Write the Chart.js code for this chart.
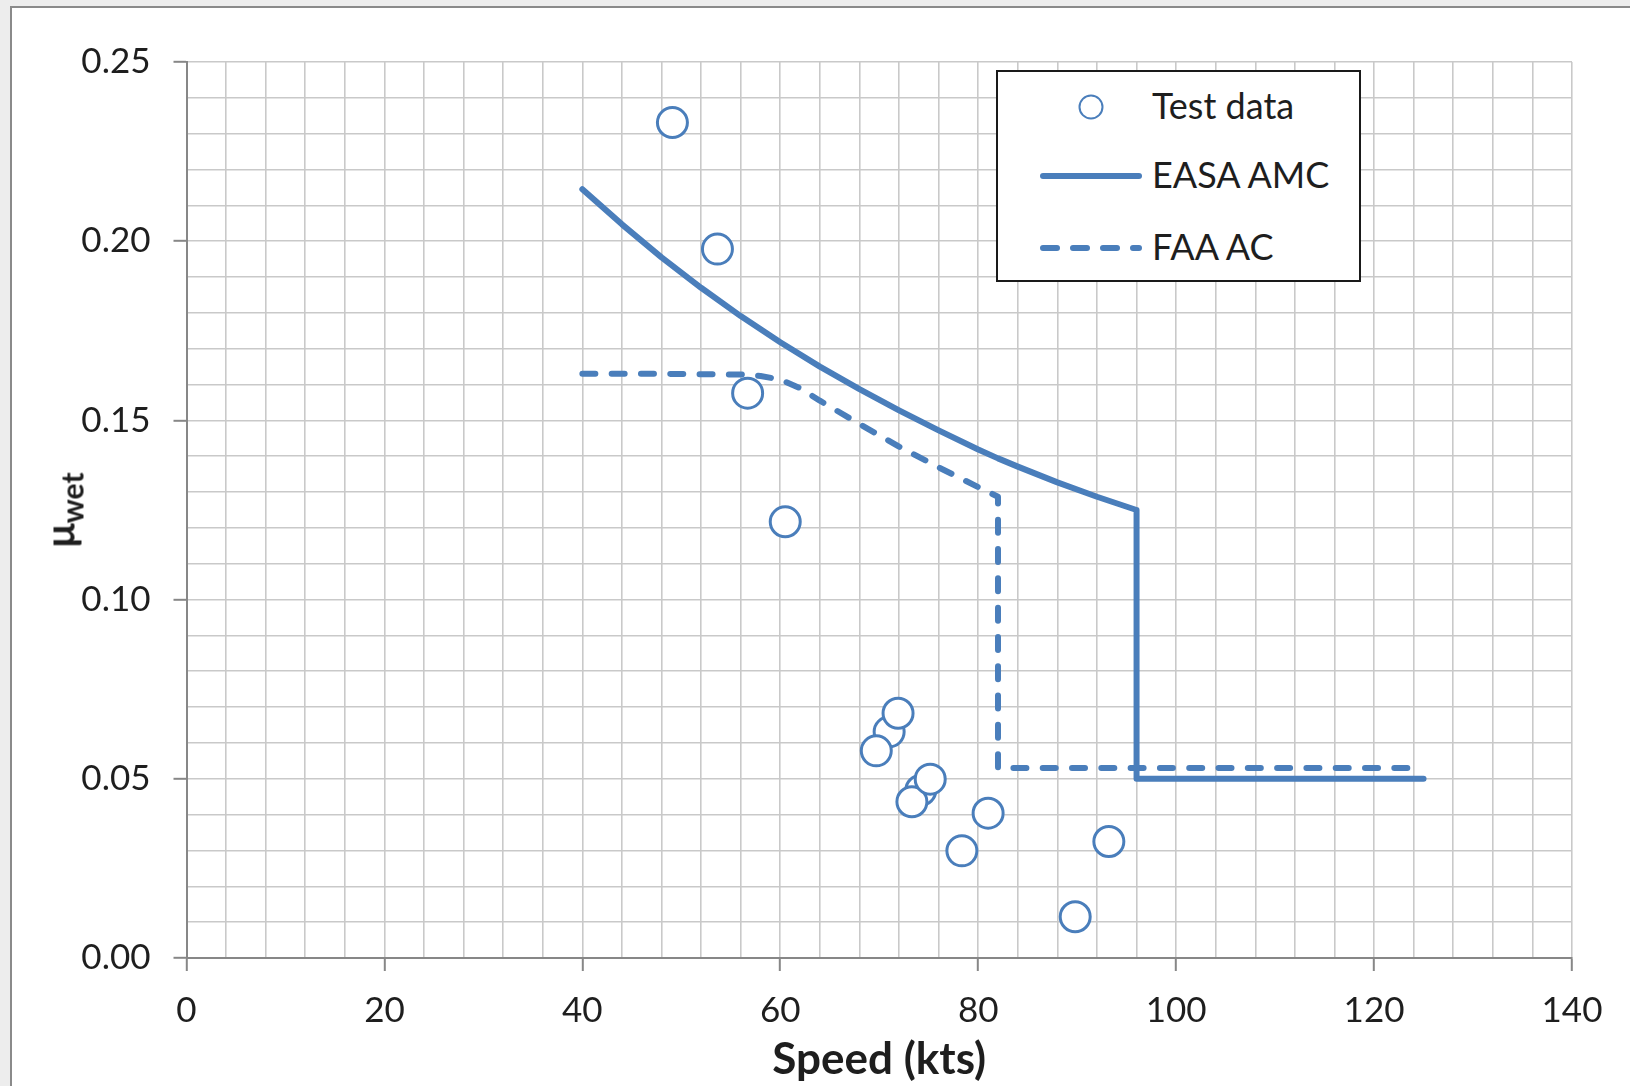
<!DOCTYPE html>
<html>
<head>
<meta charset="utf-8">
<script src="https://cdn.jsdelivr.net/npm/chart.js@4.4.1/dist/chart.umd.min.js"></script>
<style>
  html, body { margin: 0; padding: 0; }
  body { width: 1630px; height: 1086px; background: #ededed; overflow: hidden; position: relative;
         font-family: Lato, "Open Sans", sans-serif; color: #1e1e1e; }
  #frame { position: absolute; left: 10px; top: 6px; right: 0; bottom: 0; background: #fff;
           border-left: 2px solid #8a8a8a; border-top: 2px solid #8a8a8a; }
  #plot { position: absolute; left: 0; top: 0; }
  #ytitle { position: absolute; left: 63px; top: 510px; transform: translate(-50%, -50%) rotate(-90deg);
            font-weight: bold; white-space: nowrap; line-height: 1; }
  #ytitle .mu { font-size: 40px; }
  #ytitle sub { font-size: 30px; vertical-align: -9px; }
  #legend { position: absolute; left: 996px; top: 70px; width: 361px; height: 208px;
            border: 2px solid #1a1a1a; background: #fff; }
  .lg-row { position: absolute; left: 0; width: 100%; height: 40px; }
  .lg-row svg { position: absolute; left: 38px; top: 5px; }
  .lg-row span { position: absolute; left: 154px; top: -2px; line-height: 40px; font-size: 36px; white-space: nowrap; }
</style>
</head>
<body>
<div id="frame"></div>
<canvas id="plot" width="1630" height="1086"></canvas>
<div id="ytitle"><span class="mu">μ</span><sub>wet</sub></div>
<div id="legend"></div>
<script>
// Wet-runway friction test points (speed in kts, friction coefficient)
const testSpeed = [71.0, 74.2, 49.1, 53.65, 56.7, 60.5, 69.7, 71.9, 73.3, 75.15, 78.35, 81.0, 89.8, 93.2];
const testMu    = [0.0631, 0.0468, 0.2331, 0.1978, 0.1576, 0.1217, 0.0578, 0.0683, 0.0436, 0.0499, 0.0299, 0.0404, 0.0115, 0.0325];

// EASA AMC wet friction curve
const easaSpeed = [40, 44, 48, 52, 56, 60, 64, 68, 72, 76, 80, 82, 84, 88, 92, 96, 96, 125];
const easaMu    = [0.2145, 0.2047, 0.1955, 0.1870, 0.1791, 0.1718, 0.1650, 0.1587, 0.1528, 0.1472, 0.1419, 0.1394, 0.1371, 0.1327, 0.1287, 0.1250, 0.050, 0.050];

// FAA AC wet friction curve
const faaSpeed = [40, 48, 56, 58, 60, 62, 64, 68, 72, 76, 80, 82, 82, 125];
const faaMu    = [0.163, 0.163, 0.1628, 0.1624, 0.1614, 0.1590, 0.1555, 0.1490, 0.1427, 0.1369, 0.1314, 0.1287, 0.053, 0.053];

// Axis ranges and label spacing
const xMin = 0, xMax = 140, xGridStep = 4, xLabelStep = 20;
const yMin = 0, yMax = 0.25, yGridStep = 0.01, yLabelStep = 0.05;

const BLUE = '#4a7ebb';
const AXIS = '#878787';
const GRID = '#c9c9c9';
const TEXT = '#1e1e1e';
const FONT = 'Lato, "Open Sans", sans-serif';

const toPts = (xs, ys) => xs.map((x, i) => ({ x: x, y: ys[i] }));

const isMajorX = v => Math.abs(v / xLabelStep - Math.round(v / xLabelStep)) < 1e-6;
const isMajorY = v => Math.abs(v / yLabelStep - Math.round(v / yLabelStep)) < 1e-6;

const chart = new Chart(document.getElementById('plot').getContext('2d'), {
  type: 'scatter',
  data: {
    datasets: [
      { label: 'Test data', data: toPts(testSpeed, testMu), showLine: false,
        pointStyle: 'circle', pointRadius: 15, pointBorderWidth: 3,
        pointBorderColor: BLUE, pointBackgroundColor: '#ffffff', order: 0 },
      { label: 'EASA AMC', data: toPts(easaSpeed, easaMu), showLine: true,
        borderColor: BLUE, borderWidth: 6, pointRadius: 0, tension: 0,
        borderCapStyle: 'round', borderJoinStyle: 'round', order: 1 },
      { label: 'FAA AC', data: toPts(faaSpeed, faaMu), showLine: true,
        borderColor: BLUE, borderWidth: 6, pointRadius: 0, tension: 0,
        borderDash: [13, 16.3], borderCapStyle: 'round', borderJoinStyle: 'round', order: 2 }
    ]
  },
  options: {
    responsive: false,
    animation: false,
    devicePixelRatio: 1,
    events: [],
    layout: { padding: { left: 0, top: 62, right: 58, bottom: 0 } },
    plugins: { legend: { display: false }, tooltip: { enabled: false } },
    scales: {
      x: {
        type: 'linear', min: xMin, max: xMax,
        afterFit: s => { s.height = 128; },
        border: { color: AXIS, width: 2 },
        grid: { color: GRID, lineWidth: 1.6, tickLength: 13, tickWidth: 2,
                tickColor: c => (c.tick && isMajorX(c.tick.value)) ? AXIS : 'rgba(0,0,0,0)' },
        ticks: { stepSize: xGridStep, autoSkip: false, maxRotation: 0, padding: 19,
                 color: TEXT, font: { family: FONT, size: 35 },
                 callback: v => isMajorX(v) ? String(Math.round(v)) : '' },
        title: { display: true, text: 'Speed (kts)', color: TEXT,
                 font: { family: FONT, size: 44, weight: 'bold' }, padding: { top: 0, bottom: 0 } }
      },
      y: {
        type: 'linear', min: yMin, max: yMax,
        afterFit: s => { s.width = 186.5; },
        border: { color: AXIS, width: 2 },
        grid: { color: GRID, lineWidth: 1.6, tickLength: 13, tickWidth: 2,
                tickColor: c => (c.tick && isMajorY(c.tick.value)) ? AXIS : 'rgba(0,0,0,0)' },
        ticks: { stepSize: yGridStep, autoSkip: false, padding: 23,
                 color: TEXT, font: { family: FONT, size: 35 },
                 callback: v => isMajorY(v) ? v.toFixed(2) : '' }
      }
    }
  }
});

// Legend box built from the chart's datasets
const legend = document.getElementById('legend');
const rowCenters = [35, 104, 176];
const NS = 'http://www.w3.org/2000/svg';
chart.data.datasets.forEach((ds, i) => {
  const row = document.createElement('div');
  row.className = 'lg-row';
  row.style.top = (rowCenters[i] - 20) + 'px';
  const svg = document.createElementNS(NS, 'svg');
  svg.setAttribute('width', '110');
  svg.setAttribute('height', '30');
  if (!ds.showLine) {
    const c = document.createElementNS(NS, 'circle');
    c.setAttribute('cx', '55'); c.setAttribute('cy', '15'); c.setAttribute('r', '11.5');
    c.setAttribute('fill', '#fff'); c.setAttribute('stroke', ds.pointBorderColor);
    c.setAttribute('stroke-width', '2');
    svg.appendChild(c);
  } else {
    const l = document.createElementNS(NS, 'line');
    l.setAttribute('x1', '7'); l.setAttribute('x2', '103');
    l.setAttribute('y1', '15'); l.setAttribute('y2', '15');
    l.setAttribute('stroke', ds.borderColor); l.setAttribute('stroke-width', '6');
    l.setAttribute('stroke-linecap', 'round');
    if (ds.borderDash) l.setAttribute('stroke-dasharray', '14 16');
    svg.appendChild(l);
  }
  const label = document.createElement('span');
  label.textContent = ds.label;
  row.appendChild(svg);
  row.appendChild(label);
  legend.appendChild(row);
});
</script>
</body>
</html>
